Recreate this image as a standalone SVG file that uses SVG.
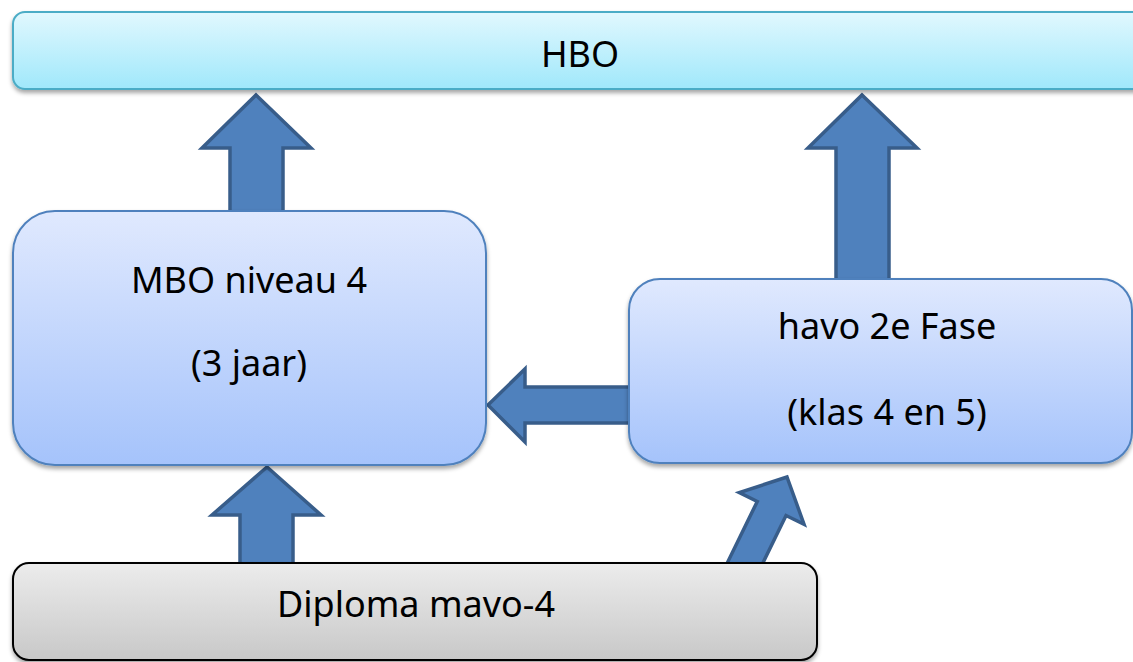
<svg xmlns="http://www.w3.org/2000/svg" width="1133" height="662" viewBox="0 0 1133 662">
  <defs>
    <linearGradient id="gHbo" x1="0" y1="0" x2="0" y2="1">
      <stop offset="0" stop-color="#e1f8fe"/>
      <stop offset="1" stop-color="#a0e8fb"/>
    </linearGradient>
    <linearGradient id="gBlue" x1="0" y1="0" x2="0" y2="1">
      <stop offset="0" stop-color="#e0e9fe"/>
      <stop offset="1" stop-color="#a5c3fb"/>
    </linearGradient>
    <linearGradient id="gGray" x1="0" y1="0" x2="0" y2="1">
      <stop offset="0" stop-color="#ececec"/>
      <stop offset="1" stop-color="#c8c8c8"/>
    </linearGradient>
    <filter id="shadow" x="-5%" y="-10%" width="110%" height="130%">
      <feDropShadow dx="0" dy="3" stdDeviation="2" flood-color="#000" flood-opacity="0.35"/>
    </filter>
  </defs>
  <style>
    .arrow { fill: #4f81bd; stroke: #385d8a; stroke-width: 3.5; stroke-linejoin: miter; }
    .lbl { font-family: "Noto Sans", "Open Sans", sans-serif; font-size: 36px; fill: #000; text-anchor: middle; }
    .blue { fill: url(#gBlue); stroke: #4f81bd; stroke-width: 2; }
  </style>
  <rect width="1133" height="662" fill="#ffffff"/>

  <g id="connectors">
    <polygon class="arrow" points="256,95 311,148 283,148 283,212 230,212 230,148 202,148"/>
    <polygon class="arrow" points="862,95 917,148 889,148 889,280 836,280 836,148 808,148"/>
    <polygon class="arrow" points="488,405 525,369 525,387 630,387 630,423 525,423 525,442"/>
    <polygon class="arrow" points="267,467 321,515 293,515 293,564 240,564 240,515 212,515"/>
    <polygon class="arrow" transform="translate(787,477) rotate(26)" points="0,0 36,35 16,35 16,110 -16,110 -16,35 -36,35"/>
  </g>

  <g id="hbo">
    <rect x="13" y="12" width="1140" height="77" rx="12" ry="12" fill="url(#gHbo)" stroke="#4bacc6" stroke-width="2" filter="url(#shadow)"/>
    <text class="lbl" x="580" y="67">HBO</text>
  </g>

  <g id="mbo">
    <rect class="blue" x="13" y="211" width="473" height="254" rx="42" ry="42" filter="url(#shadow)"/>
    <text class="lbl" x="249" y="293">MBO niveau 4</text>
    <text class="lbl" x="249" y="376">(3 jaar)</text>
  </g>

  <g id="havo">
    <rect class="blue" x="629" y="279" width="503" height="184" rx="31" ry="31" filter="url(#shadow)"/>
    <text class="lbl" x="887" y="339">havo 2e Fase</text>
    <text class="lbl" x="887" y="425">(klas 4 en 5)</text>
  </g>

  <g id="diploma">
    <rect x="13" y="563" width="804" height="97" rx="16" ry="16" fill="url(#gGray)" stroke="#000" stroke-width="2" filter="url(#shadow)"/>
    <text class="lbl" x="416" y="617">Diploma mavo-4</text>
  </g>
</svg>
